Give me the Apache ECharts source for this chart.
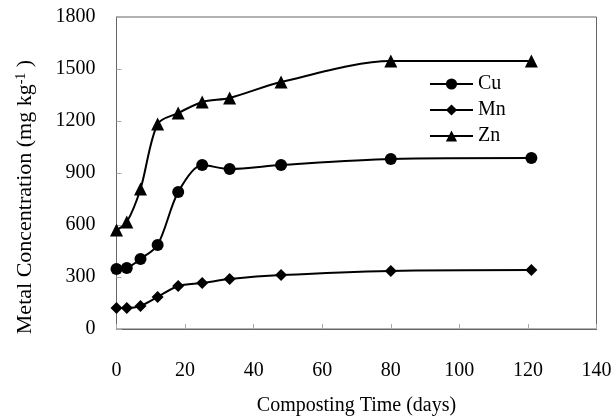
<!DOCTYPE html>
<html>
<head>
<meta charset="utf-8">
<script src="https://cdn.jsdelivr.net/npm/echarts@6/dist/echarts.min.js"></script>
<style>html,body{margin:0;padding:0;background:#fff}#c{width:616px;height:416px}</style>
</head>
<body>
<div id="c"></div>
<script>
const days = [0, 3, 7, 12, 18, 25, 33, 48, 80, 121];
const cu = [346, 352, 404, 485, 790, 946, 923, 946, 981, 986];
const mn = [121, 121, 133, 185, 248, 265, 288, 311, 335, 340];
const zn = [571, 617, 808, 1183, 1246, 1310, 1333, 1425, 1546, 1546];
const xTicks = [0, 20, 40, 60, 80, 100, 120, 140];
const yTicks = [0, 300, 600, 900, 1200, 1500, 1800];

const font = 'Liberation Serif';
const pair = (vals) => days.map((d, i) => [d, vals[i]]);
const chart = echarts.init(document.getElementById('c'), null, {renderer: 'canvas'});
const mk = (name, vals, symbol, size) => ({
  name, type: 'line', data: pair(vals), smooth: 0.3,
  symbol, symbolSize: size, showSymbol: true,
  lineStyle: {color: '#000', width: 2},
  itemStyle: {color: '#000'},
  emphasis: {disabled: true}
});
chart.setOption({
  animation: false,
  backgroundColor: '#fff',
  grid: {left: 116.5, right: 19.5, top: 17, bottom: 87, outerBoundsMode: 'none', containLabel: false,
    show: true, borderColor: '#666', borderWidth: 1, backgroundColor: 'transparent'},
  legend: {
    orient: 'vertical', left: 424, top: 69, itemWidth: 43, itemHeight: 14, itemGap: 6,
    textStyle: {fontFamily: font, fontSize: 20, color: '#000', lineHeight: 20},
    data: ['Cu', 'Mn', 'Zn']
  },
  xAxis: {
    type: 'value', min: xTicks[0], max: xTicks[xTicks.length - 1], interval: 20,
    name: 'Composting Time (days)', nameLocation: 'middle', nameGap: 67,
    nameTextStyle: {fontFamily: font, fontSize: 20, color: '#000'},
    axisLine: {show: true, lineStyle: {color: '#666', width: 1}},
    axisTick: {show: true, inside: true, length: 5, lineStyle: {color: '#aaa'}},
    axisLabel: {fontFamily: font, fontSize: 20, color: '#000', margin: 32, formatter: v => String(v)},
    splitLine: {show: false}
  },
  yAxis: {
    type: 'value', min: yTicks[0], max: yTicks[yTicks.length - 1], interval: 300,
    name: 'Metal Concentration (mg kg{sup|-1}{n| )}', nameLocation: 'middle', nameGap: 80,
    nameRotate: 90,
    nameTextStyle: {fontFamily: font, fontSize: 22, color: '#000', padding: [0, 48, 0, 0],
      rich: {
        sup: {fontFamily: font, fontSize: 14, color: '#000', verticalAlign: 'top', padding: [0, 0, 8, 0]},
        n: {fontFamily: font, fontSize: 22, color: '#000'}
      }},
    axisLine: {show: true, lineStyle: {color: '#666', width: 1}},
    axisTick: {show: true, inside: true, length: 5, lineStyle: {color: '#aaa'}},
    axisLabel: {fontFamily: font, fontSize: 20, color: '#000', margin: 21, formatter: v => String(v)},
    splitLine: {show: false}
  },
  series: [
    mk('Cu', cu, 'circle', 12),
    mk('Mn', mn, 'diamond', 12),
    mk('Zn', zn, 'triangle', 13)
  ]
});
</script>
</body>
</html>
